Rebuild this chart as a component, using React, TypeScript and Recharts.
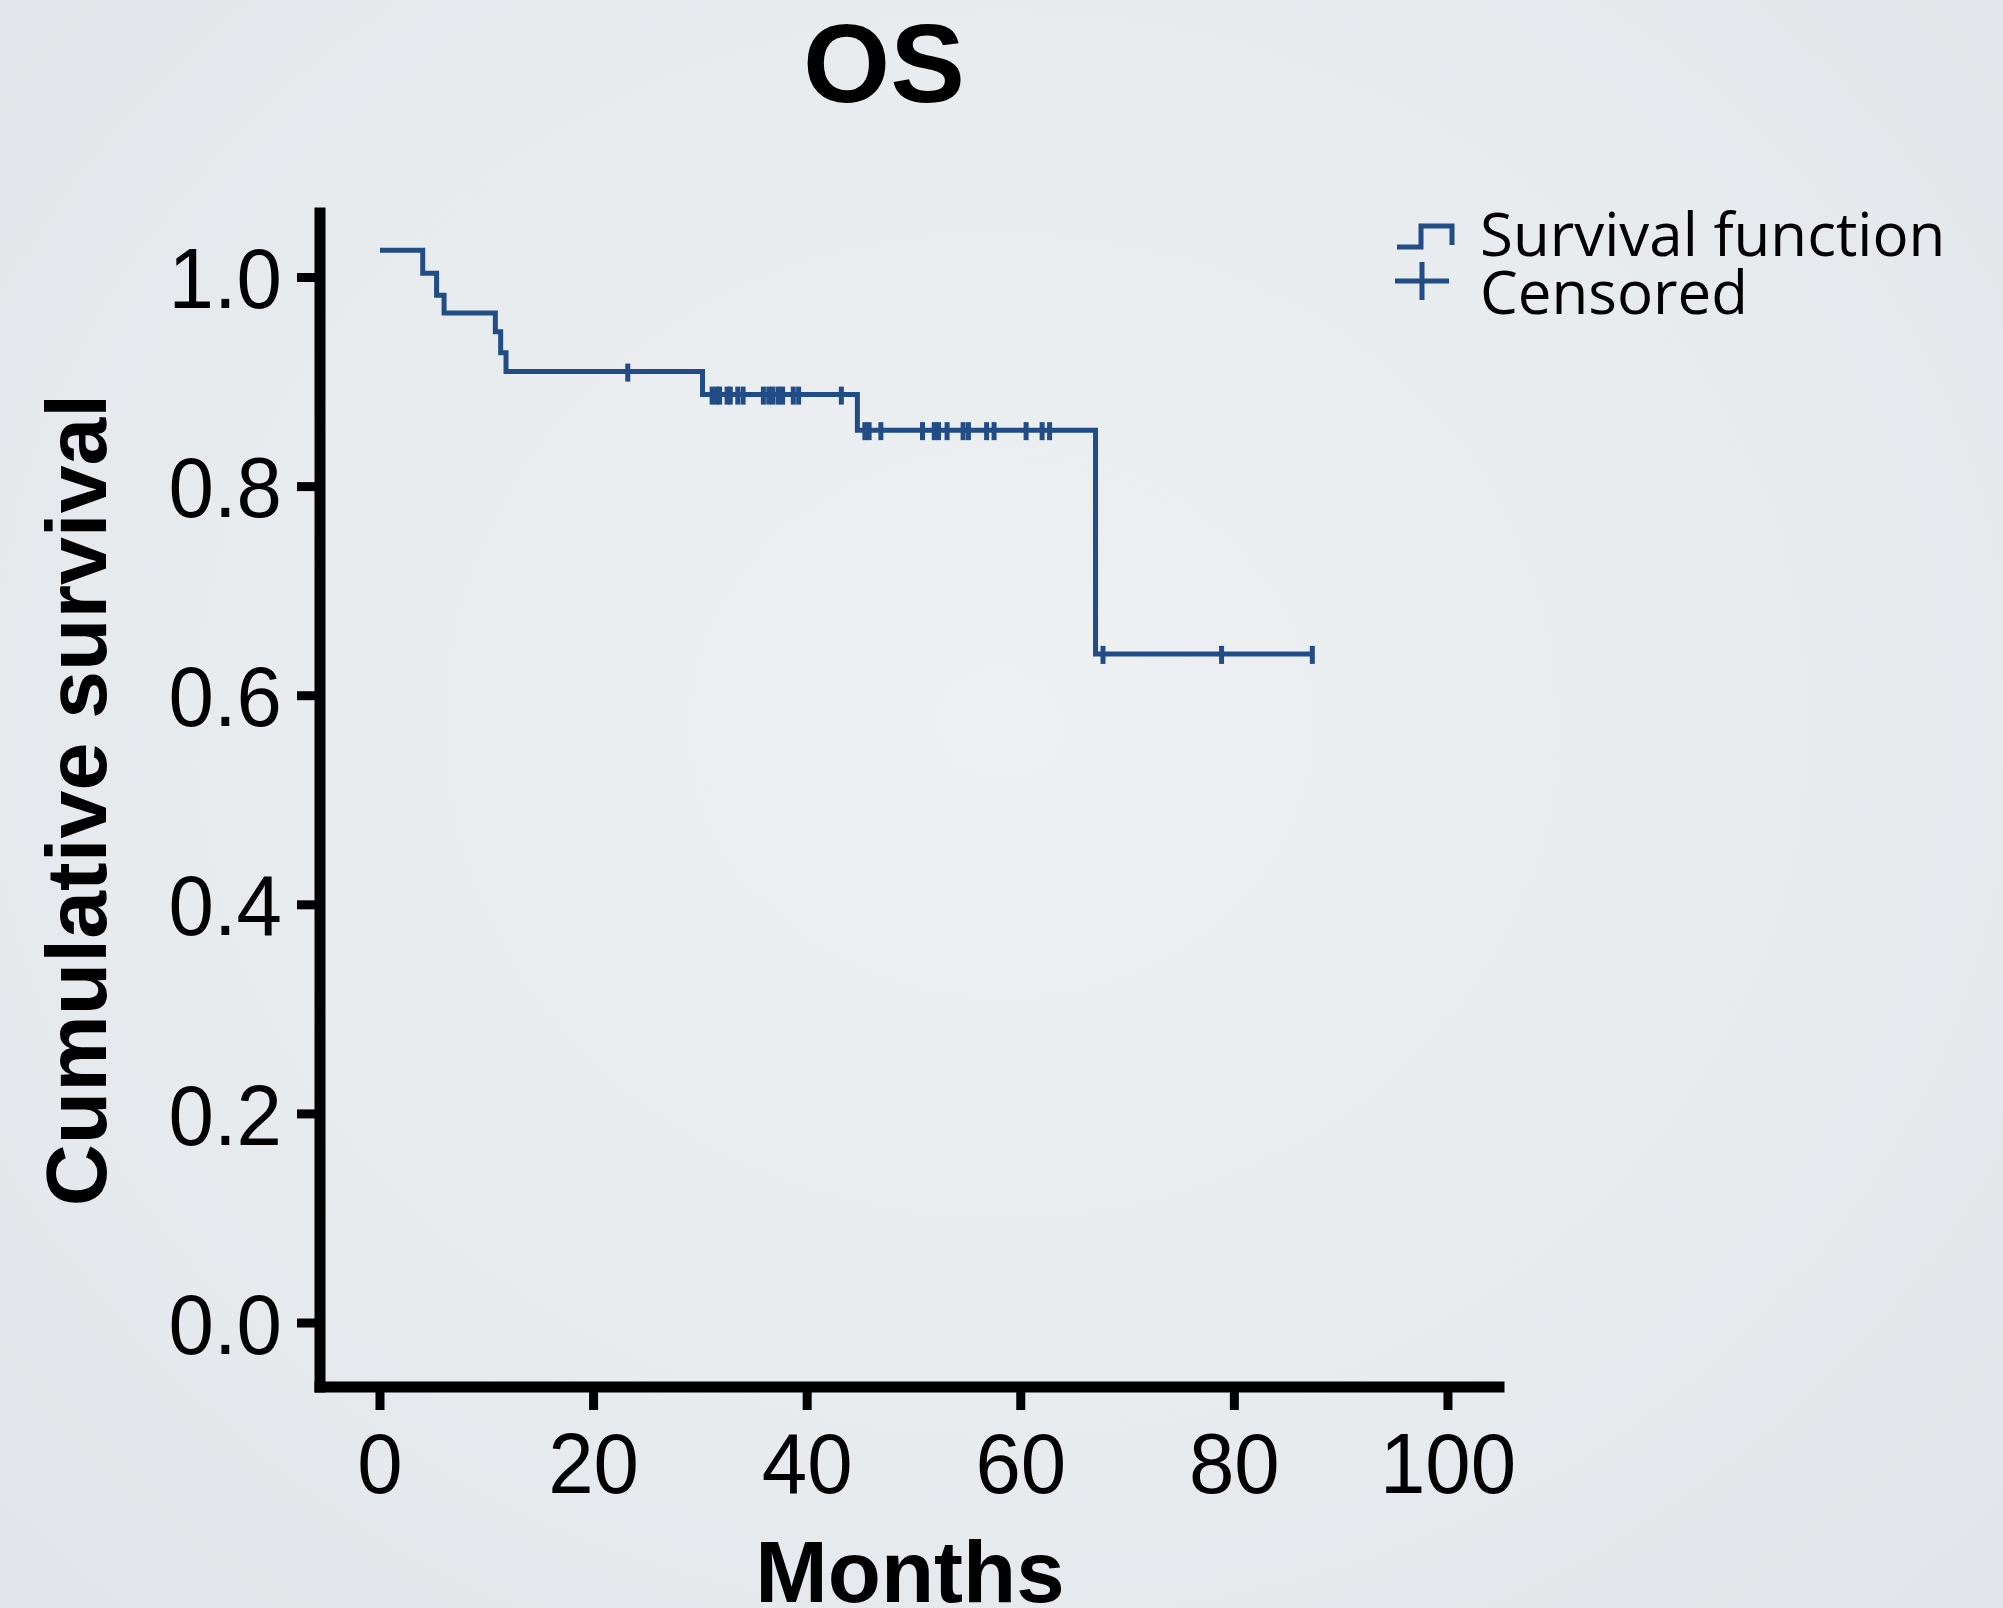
import React from 'react';
import { ComposedChart, Line, Scatter, XAxis, YAxis } from 'recharts';

// ---- data ----
const chartTitle = 'OS';
const xAxisTitle = 'Months';
const yAxisTitle = 'Cumulative survival';
const legendLabels = ['Survival function', 'Censored'];

// Kaplan-Meier step points (time in months, cumulative survival)
const stepTimes = [0, 4.0, 5.3, 6.0, 10.8, 11.3, 11.8, 30.2, 44.7, 67.0, 87.3];
const stepSurvival = [1.026, 1.004, 0.983, 0.966, 0.948, 0.928, 0.91, 0.888, 0.854, 0.64, 0.64];

// censored observation times (months)
const censoredTimes = [
  23.2,
  31.1, 31.5, 31.8, 32.5, 32.8, 33.5, 34.0, 35.9, 36.4, 36.8, 37.3, 37.7, 38.7, 39.2, 43.2,
  45.4, 45.8, 46.9, 50.8, 51.9, 52.3, 53.1, 54.6, 55.1, 56.8, 57.5, 60.5, 62.0, 62.7,
  67.7, 78.8, 87.3,
];

const xTicks = [0, 20, 40, 60, 80, 100];
const yTicks = [0, 0.2, 0.4, 0.6, 0.8, 1.0];

// ---- derived tables ----
const stepData = stepTimes.map((t, i) => ({ t, s: stepSurvival[i] }));
const levelAt = (t: number) => {
  let s = stepSurvival[0];
  for (let i = 0; i < stepTimes.length; i++) {
    if (stepTimes[i] <= t) s = stepSurvival[i];
  }
  return s;
};
const censoredData = censoredTimes.map((t) => ({ t, s: levelAt(t) }));

// ---- style ----
const W = 2003;
const H = 1608;
const LINE = '#214c86';
const SANS = '"Liberation Sans", Arial, Helvetica, sans-serif';
const LEGEND_FONT = '"Open Sans", "Noto Sans", sans-serif';

const XTick = (props: any) => {
  const { x, y, payload } = props;
  return (
    <g transform={`translate(${x},${y + 83}) scale(1.02,1.07)`}>
      <text x={0} y={0} textAnchor="middle" fontFamily={SANS} fontSize={80} fill="#000">
        {payload.value}
      </text>
    </g>
  );
};

const YTick = (props: any) => {
  const { x, y, payload } = props;
  return (
    <g transform={`translate(${x},${y}) scale(1.02,1.07)`}>
      <text x={0} y={0} dy="0.358em" textAnchor="end" fontFamily={SANS} fontSize={80} fill="#000">
        {Number(payload.value).toFixed(1)}
      </text>
    </g>
  );
};

const CensorMark = (props: any) => {
  const { cx, cy } = props;
  if (cx == null || cy == null) return null;
  return <line x1={cx} x2={cx} y1={cy - 8} y2={cy + 10} stroke={LINE} strokeWidth={5} />;
};

export default function App() {
  return (
    <div
      style={{
        position: 'fixed',
        left: 0,
        top: 0,
        width: W,
        height: H,
        overflow: 'hidden',
        background: 'radial-gradient(ellipse at 50% 45%, #eef0f2 0%, #e8ebee 60%, #e1e5e9 100%)',
      }}
    >
      <ComposedChart
        width={W}
        height={H}
        margin={{ top: 213, right: 504, bottom: 71, left: 200 }}
        style={{ position: 'absolute', left: 0, top: 0 }}
      >
        <XAxis
          type="number"
          dataKey="t"
          domain={[-5.618, 104.78]}
          allowDataOverflow
          ticks={xTicks}
          interval={0}
          height={150}
          tickSize={23}
          tickMargin={0}
          axisLine={{ stroke: '#000', strokeWidth: 11, strokeLinecap: 'square' }}
          tickLine={{ stroke: '#000', strokeWidth: 9 }}
          tick={<XTick />}
        />
        <YAxis
          type="number"
          dataKey="s"
          domain={[-0.0612, 1.0617]}
          allowDataOverflow
          ticks={yTicks}
          interval={0}
          width={120}
          tickSize={23}
          tickMargin={15}
          axisLine={{ stroke: '#000', strokeWidth: 11, strokeLinecap: 'square' }}
          tickLine={{ stroke: '#000', strokeWidth: 9 }}
          tick={<YTick />}
        />
        <Line
          data={stepData}
          dataKey="s"
          type="stepAfter"
          stroke={LINE}
          strokeWidth={5}
          dot={false}
          activeDot={false}
          isAnimationActive={false}
        />
        <Scatter
          data={censoredData}
          dataKey="s"
          fill={LINE}
          shape={<CensorMark />}
          isAnimationActive={false}
        />
      </ComposedChart>

      <svg
        width={W}
        height={H}
        style={{ position: 'absolute', left: 0, top: 0, pointerEvents: 'none' }}
      >
        <text x={884} y={102} textAnchor="middle" fontFamily={SANS} fontWeight="bold" fontSize={112} fill="#000">
          {chartTitle}
        </text>
        <text x={910} y={1602} textAnchor="middle" fontFamily={SANS} fontWeight="bold" fontSize={87} fill="#000">
          {xAxisTitle}
        </text>
        <text
          x={106}
          y={800}
          transform="rotate(-90, 106, 800)"
          textAnchor="middle"
          fontFamily={SANS}
          fontWeight="bold"
          fontSize={86}
          fill="#000"
        >
          {yAxisTitle}
        </text>

        {/* legend */}
        <path d="M1397 247 H1421 V226 H1452 V245" fill="none" stroke={LINE} strokeWidth={5} />
        <path d="M1395 281 H1449 M1422 262 V300" fill="none" stroke={LINE} strokeWidth={5} />
        <text x={1480} y={256} fontFamily={LEGEND_FONT} fontSize={60} fill="#000">
          {legendLabels[0]}
        </text>
        <text x={1480} y={314} fontFamily={LEGEND_FONT} fontSize={60} fill="#000">
          {legendLabels[1]}
        </text>
      </svg>
    </div>
  );
}
